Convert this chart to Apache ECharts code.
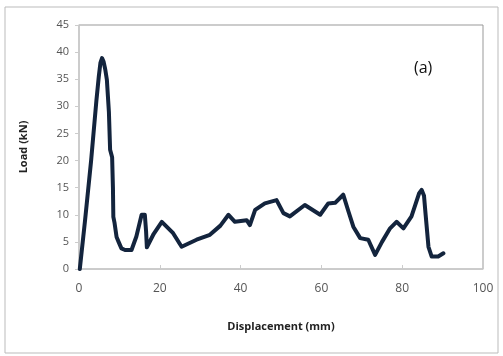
<!DOCTYPE html>
<html><head><meta charset="utf-8">
<script src="https://cdn.jsdelivr.net/npm/echarts@6/dist/echarts.min.js"></script>
<style>html,body{margin:0;padding:0;background:#fff}#c{width:503px;height:356px}</style>
</head><body><div id="c"></div>
<script>
const displacement = [0.2,1.5,3,4.3,4.9,5.3,5.7,6.1,6.5,6.9,7.4,7.7,8.2,8.4,8.5,8.8,9.1,9.3,9.8,10.5,11.4,13,14.2,15.5,16.3,16.6,16.8,18.5,20.5,23.3,25.4,29.1,32.4,35,37,38.6,41.5,42.3,43.6,46,48.9,50.6,52.2,55.9,59.7,61.7,63.4,65.4,66.7,67.9,69.6,71.6,73.3,75,77,78.6,80.3,82.3,84.2,84.8,85.4,85.8,86.5,87.3,88.9,90.2];
const load = [0,9,20,31,35.5,38,38.9,38.2,36.8,34.9,29,22,20.6,15,9.6,8.5,8.8,5.9,5,3.8,3.5,3.5,6,10,10,7,4,6.5,8.7,6.6,4.1,5.4,6.3,8,10,8.7,9,8.1,10.9,12.1,12.7,10.3,9.7,11.8,10,12.1,12.2,13.7,10.6,7.8,5.7,5.4,2.6,5,7.5,8.7,7.5,9.7,14,14.6,13.5,10,4.1,2.3,2.3,2.9];
const xTicks = [0,20,40,60,80,100];
const yTicks = [0,5,10,15,20,25,30,35,40,45];
const chart = echarts.init(document.getElementById('c'));
const font = "'Open Sans', 'Liberation Sans', sans-serif";
chart.setOption({
  animation:false,
  graphic:[{type:'rect',shape:{x:5,y:7,width:493,height:346},style:{fill:'none',stroke:'#bbb',lineWidth:1}},
    {type:'text',left:414,top:60,style:{text:'(a)',font:'16px '+font,fill:'#111'}}],
  grid:{left:79,right:20,top:25,bottom:87,show:true,borderColor:'#999',borderWidth:1},
  xAxis:{type:'value',min:0,max:100,interval:20,name:'Displacement (mm)',nameLocation:'middle',nameGap:52,
    nameTextStyle:{fontFamily:font,fontWeight:'bold',fontSize:11,color:'#222'},
    axisLine:{lineStyle:{color:'#ccc',width:1.5}},axisTick:{show:true,inside:true,length:4,lineStyle:{color:'#ccc'}},
    splitLine:{show:false},axisLabel:{fontFamily:font,fontSize:12,color:'#555',margin:14}},
  yAxis:{type:'value',min:0,max:45,interval:5,name:'Load (kN)',nameLocation:'middle',nameGap:50,
    nameTextStyle:{fontFamily:font,fontWeight:'bold',fontSize:11,color:'#222'},
    axisLine:{show:true,lineStyle:{color:'#ccc',width:1.5}},axisTick:{show:true,length:4,lineStyle:{color:'#ccc'}},
    splitLine:{show:false},axisLabel:{fontFamily:font,fontSize:11,color:'#555',margin:10}},
  series:[{type:'line',data:displacement.map((d,i)=>[d,load[i]]),showSymbol:false,smooth:false,
    lineStyle:{color:'#13243d',width:4,join:'round',cap:'round'},z:5}]
});
</script></body></html>
